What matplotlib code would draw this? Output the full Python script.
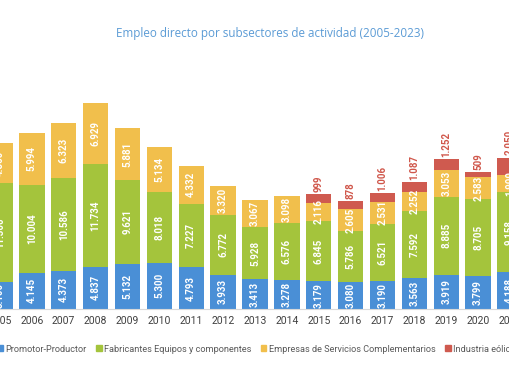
import numpy as np
import matplotlib
matplotlib.use('Agg')
import matplotlib.pyplot as plt
from matplotlib.patches import Patch

years = [2005, 2006, 2007, 2008, 2009, 2010, 2011, 2012, 2013,
         2014, 2015, 2016, 2017, 2018, 2019, 2020, 2021]
promotor = [3100, 4145, 4373, 4837, 5132, 5300, 4793, 3933, 3413,
            3278, 3179, 3080, 3190, 3563, 3919, 3799, 4188]
fabricantes = [11300, 10004, 10586, 11734, 9621, 8018, 7227, 6772, 5928,
               6576, 6845, 5786, 6521, 7592, 8885, 8705, 9158]
servicios = [4560, 5994, 6323, 6929, 5881, 5134, 4332, 3320, 3067,
             3098, 2116, 2605, 2531, 2252, 3053, 2583, 1900]
industria = [0, 0, 0, 0, 0, 0, 0, 0, 0,
             0, 999, 878, 1006, 1087, 1252, 509, 2050]

series_names = ['Promotor-Productor', 'Fabricantes Equipos y componentes',
                'Empresas de Servicios Complementarios', 'Industria eólica marina']
colors = ['#4a8fd6', '#a4c43c', '#f1bf4c', '#cf5a4f']

plt.rcParams['font.family'] = ['Roboto', 'DejaVu Sans']


def fmt(v):
    return '{:,}'.format(int(v)).replace(',', '.')


fig = plt.figure(figsize=(5.1, 3.82), dpi=100)
# axes wider than the figure: the picture is a crop of a larger chart
ax = fig.add_axes([0, 0.191, 1, 0.688])

x = np.array(years)
bottom = np.zeros(len(years))
for i, vals in enumerate([promotor, fabricantes, servicios, industria]):
    vals = np.array(vals, dtype=float)
    ax.bar(x, vals, 0.8, bottom=bottom, color=colors[i], linewidth=0)
    for xi, b, v in zip(x, bottom, vals):
        if v <= 0:
            continue
        if i < 3:
            ax.text(xi, b + v / 2, fmt(v), rotation=90, ha='center', va='center',
                    color='white', fontsize=7, fontweight='bold')
        else:
            ax.text(xi, b + v + 250, fmt(v), rotation=90, ha='center', va='bottom',
                    color='#d0574b', fontsize=7, fontweight='bold')
    bottom = bottom + vals

ax.set_xlim(2005.067, 2020.93)
ax.set_ylim(0, 30000)
ax.set_xticks(x)
ax.set_xticklabels([str(y) for y in years], fontsize=7.5, color='#404040')
ax.tick_params(axis='x', length=0, pad=5)
ax.set_yticks([])
for s in ['top', 'right', 'left']:
    ax.spines[s].set_visible(False)
ax.spines['bottom'].set_color('#d9d9d9')
ax.spines['bottom'].set_linewidth(0.8)

fig.text(270 / 510, 1 - 34 / 382, 'Empleo directo por subsectores de actividad (2005-2023)',
         ha='center', va='center', fontsize=8.4, color='#5b9bd5', family='Open Sans')

handles = [Patch(color=c) for c in colors]
fig.legend(handles, series_names, loc='center left', bbox_to_anchor=(-0.005, 1 - 349 / 382),
           ncol=4, frameon=False, fontsize=6.6, handlelength=0.6, handleheight=0.6,
           handletextpad=0.3, columnspacing=1.0, borderpad=0, borderaxespad=0,
           labelcolor='#595959')

fig.savefig('out.png', dpi=100)
